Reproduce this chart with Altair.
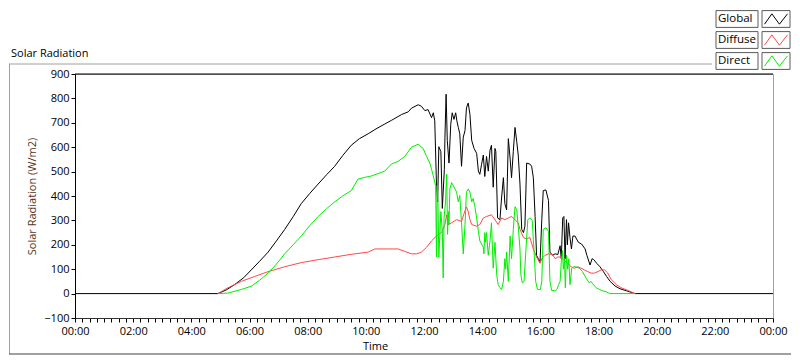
import json
import altair as alt
import pandas as pd

# ---------------- data ----------------
series_names = ["Global", "Diffuse", "Direct"]
series_colors = ["#000000", "#ff4848", "#00ee00"]

global_t = [0, 4.91, 5.2, 5.49, 5.8, 6.06, 6.35, 6.64, 6.92, 7.21, 7.5, 7.78, 8.07, 8.36, 8.65, 8.93,
            9.2, 9.5, 9.78, 10.08, 10.35, 10.65, 10.88, 11.23, 11.46, 11.57, 11.8, 11.91, 12.03, 12.14,
            12.26, 12.32, 12.37, 12.43, 12.47, 12.51, 12.58, 12.63, 12.7, 12.72, 12.76, 12.8, 12.86,
            12.92, 12.97, 13.03, 13.09, 13.13, 13.18, 13.23, 13.29, 13.35, 13.41, 13.46, 13.52, 13.58,
            13.64, 13.72, 13.81, 13.87, 13.92, 13.98, 14.04, 14.09, 14.15, 14.21, 14.27, 14.32, 14.38,
            14.44, 14.47, 14.53, 14.61, 14.67, 14.73, 14.78, 14.84, 14.9, 14.96, 15.01, 15.07, 15.13,
            15.19, 15.24, 15.3, 15.36, 15.42, 15.47, 15.53, 15.64, 15.7, 15.76, 15.82, 15.87, 15.93,
            15.99, 16.05, 16.1, 16.19, 16.28, 16.33, 16.42, 16.51, 16.6, 16.68, 16.72, 16.77, 16.81,
            16.85, 16.9, 16.93, 16.97, 17.02, 17.07, 17.12, 17.19, 17.31, 17.42, 17.54, 17.6, 17.71,
            17.78, 17.83, 17.94, 18.05, 18.17, 18.28, 18.4, 18.57, 18.74, 18.97, 19.15, 19.26, 24]
global_v = [0, 0, 15, 37, 65, 97, 133, 170, 215, 263, 315, 369, 410, 449, 487, 522,
            565, 608, 635, 655, 675, 695, 710, 734, 745, 760, 774, 768, 750, 754,
            721, 741, 708, 442, 376, 602, 582, 349, 509, 641, 817, 628, 535,
            694, 741, 714, 741, 708, 681, 655, 522, 641, 668, 761, 781, 734,
            628, 595, 575, 502, 489, 530, 568, 480, 562, 502, 588, 608, 436,
            595, 582, 310, 303, 396, 475, 369, 343, 635, 555, 475, 582, 681,
            622, 568, 449, 263, 250, 276, 535, 531, 522, 475, 316, 157, 143,
            130, 303, 422, 425, 382, 170, 157, 163, 160, 196, 143, 310, 316,
            143, 303, 200, 290, 230, 183, 236, 236, 210, 203, 183, 157, 117,
            143, 140, 124, 110, 90, 70, 50, 31, 20, 11, 4, 0, 0]

diffuse_t = [4.91, 5.26, 5.72, 6.17, 6.64, 7.21, 7.78, 8.36, 8.93, 9.5, 10.08, 10.31, 10.77, 11.11,
             11.34, 11.57, 11.75, 11.91, 12.09, 12.26, 12.43, 12.6, 12.72, 12.78, 12.83, 12.95, 13.12,
             13.29, 13.38, 13.46, 13.52, 13.58, 13.64, 13.81, 13.92, 14.04, 14.15, 14.32, 14.44, 14.55,
             14.67, 14.78, 14.9, 15.01, 15.13, 15.24, 15.3, 15.42, 15.53, 15.64, 15.76, 15.87, 15.99,
             16.05, 16.16, 16.28, 16.42, 16.51, 16.6, 16.72, 16.83, 16.94, 17.06, 17.17, 17.29, 17.4,
             17.52, 17.63, 17.75, 17.86, 17.98, 18.09, 18.21, 18.32, 18.44, 18.61, 18.78, 19.01, 19.18,
             19.26]
diffuse_v = [0, 24, 50, 70, 90, 110, 127, 139, 150, 161, 170, 183, 183, 183,
             173, 163, 163, 170, 190, 216, 236, 250, 283, 323, 283, 290, 303,
             296, 329, 356, 336, 303, 283, 276, 283, 310, 316, 323, 303, 283,
             310, 303, 310, 316, 303, 290, 263, 230, 223, 230, 183, 150, 124,
             143, 157, 163, 160, 143, 150, 150, 137, 124, 110, 104, 110, 104,
             97, 90, 84, 84, 90, 97, 97, 84, 57, 37, 24, 13, 4,
             0]

direct_t = [4.91, 5.26, 5.72, 6.06, 6.35, 6.64, 6.92, 7.21, 7.5, 7.78, 8.07, 8.36, 8.65, 8.93, 9.2,
            9.5, 9.73, 9.95, 10.19, 10.42, 10.65, 10.88, 11.11, 11.34, 11.57, 11.8, 11.97, 12.09, 12.2,
            12.26, 12.32, 12.4, 12.43, 12.45, 12.48, 12.51, 12.58, 12.63, 12.66, 12.69, 12.74, 12.78,
            12.81, 12.84, 12.86, 12.89, 12.95, 13.01, 13.12, 13.18, 13.23, 13.29, 13.35, 13.41, 13.46,
            13.52, 13.58, 13.64, 13.69, 13.75, 13.81, 13.87, 13.92, 13.98, 14.04, 14.06, 14.09, 14.12,
            14.15, 14.21, 14.27, 14.32, 14.38, 14.44, 14.5, 14.55, 14.61, 14.67, 14.73, 14.78, 14.81,
            14.84, 14.9, 14.96, 15.01, 15.07, 15.13, 15.19, 15.24, 15.3, 15.33, 15.38, 15.44, 15.5,
            15.57, 15.64, 15.72, 15.78, 15.84, 15.9, 16.0, 16.05, 16.1, 16.19, 16.28, 16.33, 16.39,
            16.51, 16.57, 16.63, 16.68, 16.72, 16.76, 16.79, 16.83, 16.86, 16.9, 16.94, 16.98, 17.02,
            17.08, 17.14, 17.22, 17.34, 17.45, 17.57, 17.68, 17.74, 17.8, 17.92, 18.03, 18.15, 18.26,
            18.38, 19.26]
direct_v = [0, 2, 17, 30, 55, 84, 120, 163, 200, 236, 278, 316, 348, 376, 400,
            422, 469, 476, 482, 492, 502, 531, 542, 562, 600, 612, 595, 562, 535,
            509, 482, 442, 150, 442, 376, 150, 336, 256, 64, 310, 376, 489,
            243, 336, 283, 429, 455, 442, 416, 376, 402, 290, 163, 283, 416,
            429, 416, 376, 390, 356, 310, 256, 216, 203, 190, 163, 250, 210,
            250, 157, 216, 290, 104, 210, 77, 37, 24, 17, 50, 143, 100,
            170, 50, 236, 143, 263, 356, 343, 276, 183, 77, 44, 50, 170,
            303, 310, 300, 183, 50, 17, 17, 50, 263, 270, 256, 50, 13,
            11, 17, 37, 50, 130, 176, 100, 143, 24, 157, 100, 143, 37,
            104, 110, 110, 104, 90, 64, 44, 50, 40, 24, 17, 11, 8,
            0, 0]

x_major_hours = [0, 2, 4, 6, 8, 10, 12, 14, 16, 18, 20, 22, 24]
x_tick_labels = ["00:00", "02:00", "04:00", "06:00", "08:00", "10:00", "12:00",
                 "14:00", "16:00", "18:00", "20:00", "22:00", "00:00"]
x_minor_step = 0.25
y_ticks = [-100, 0, 100, 200, 300, 400, 500, 600, 700, 800, 900]

chart_label = "Solar Radiation"
x_title = "Time"
y_title = "Solar Radiation (W/m2)"

# ---------------- tables ----------------
rows = []
for name, ts, vs in [("Global", global_t, global_v),
                     ("Diffuse", diffuse_t, diffuse_v),
                     ("Direct", direct_t, direct_v)]:
    for t, v in zip(ts, vs):
        rows.append({"series": name, "hour": t, "value": v})
df = pd.DataFrame(rows)
legend_df = pd.DataFrame({"series": series_names})
label_df = pd.DataFrame({"label": [chart_label]})

FONT = "Open Sans"
W, H = 698, 244

n_minor = int(round(24 / x_minor_step))
x_tick_values = [i * x_minor_step for i in range(n_minor + 1)]
label_expr = ("datum.value % 2 == 0 ? " + json.dumps(x_tick_labels) +
              "[round(datum.value / 2)] : ''")

color_scale = alt.Scale(domain=series_names, range=series_colors)
x_scale = alt.Scale(domain=[0, 24], nice=False, zero=False)
y_scale = alt.Scale(domain=[-100, 900], nice=False, zero=False)

x_axis = alt.Axis(values=x_tick_values, labelExpr=label_expr, labelOverlap=False,
                  labelFlush=False, tickSize=4, labelPadding=3, grid=False,
                  domainColor="#303030", tickColor="#000000", title=x_title,
                  titleX=300, titleFontWeight="normal", titleFontSize=11,
                  titleFont=FONT, titleColor="#000000", titlePadding=4)
y_axis = alt.Axis(values=y_ticks, tickSize=4, labelPadding=2, grid=False,
                  domainColor="#000000", tickColor="#000000", title=y_title,
                  titleFontWeight="normal", titleFontSize=11, titleFont=FONT,
                  titleColor="#5a3418", titlePadding=6)


def line_layer(name):
    return alt.Chart(df).transform_filter(alt.datum.series == name).mark_line(
        strokeWidth=1, clip=True
    ).encode(
        x=alt.X("hour:Q", scale=x_scale, axis=x_axis),
        y=alt.Y("value:Q", scale=y_scale, axis=y_axis),
        color=alt.Color("series:N", scale=color_scale, legend=None),
    )


top_rule = alt.Chart(label_df).mark_rule(color="#000000", strokeWidth=1).encode(
    x=alt.value(0), x2=alt.value(W), y=alt.value(0))
frame_top = alt.Chart(label_df).mark_rule(color="#a0a0a0", strokeWidth=1).encode(
    x=alt.value(-66), x2=alt.value(637), y=alt.value(-10))
frame_left = alt.Chart(label_df).mark_rule(color="#a0a0a0", strokeWidth=1).encode(
    x=alt.value(-65.5), y=alt.value(-10), y2=alt.value(H + 36))
frame_bottom = alt.Chart(label_df).mark_rule(color="#404040", strokeWidth=1).encode(
    x=alt.value(-66), x2=alt.value(716), y=alt.value(H + 36))
title_text = alt.Chart(label_df).mark_text(
    align="left", baseline="middle", font=FONT, fontSize=11, color="#000000"
).encode(x=alt.value(-64), y=alt.value(-20), text="label:N")

main = alt.layer(line_layer("Global"), line_layer("Diffuse"), line_layer("Direct"),
                 top_rule, frame_top, frame_left, frame_bottom, title_text)

leg_y = alt.Y("series:N", scale=alt.Scale(domain=series_names, range=[-55, -13], padding=0),
              axis=None)
rect_path = "M-1,-0.4L1,-0.4L1,0.4L-1,0.4Z"
sym_rect_path = "M-1,-0.6L1,-0.6L1,0.6L-1,0.6Z"
zig_path = "M-1,0.45L-0.36,-0.45L0.3,0.45L1,-0.45"

label_boxes = alt.Chart(legend_df).mark_point(
    shape=rect_path, size=42 * 42, filled=True, fill="#ffffff", stroke="#5a5a5a",
    strokeWidth=1, opacity=1).encode(x=alt.value(662), y=leg_y)
sym_boxes = alt.Chart(legend_df).mark_point(
    shape=sym_rect_path, size=28 * 28, filled=True, fill="#ffffff", stroke="#5a5a5a",
    strokeWidth=1, opacity=1).encode(x=alt.value(701), y=leg_y)
labels = alt.Chart(legend_df).mark_text(
    align="left", baseline="middle", font=FONT, fontSize=11.5, color="#000000"
).encode(x=alt.value(643), y=leg_y, text="series:N")
syms = alt.Chart(legend_df).mark_point(
    shape=zig_path, size=23 * 23, filled=False, strokeWidth=1, opacity=1
).encode(x=alt.value(701), y=leg_y,
         color=alt.Color("series:N", scale=color_scale, legend=None))

legend = alt.layer(label_boxes, sym_boxes, labels, syms)

chart = alt.layer(main, legend).resolve_scale(y="independent").properties(
    width=W, height=H, padding=0, background="#ffffff"
).configure_view(stroke="#a0a0a0", strokeWidth=1).configure_axis(
    labelFont=FONT, labelFontSize=11, labelColor="#000000"
)

chart.save("out.html", embed_options={"renderer": "svg", "actions": False})
